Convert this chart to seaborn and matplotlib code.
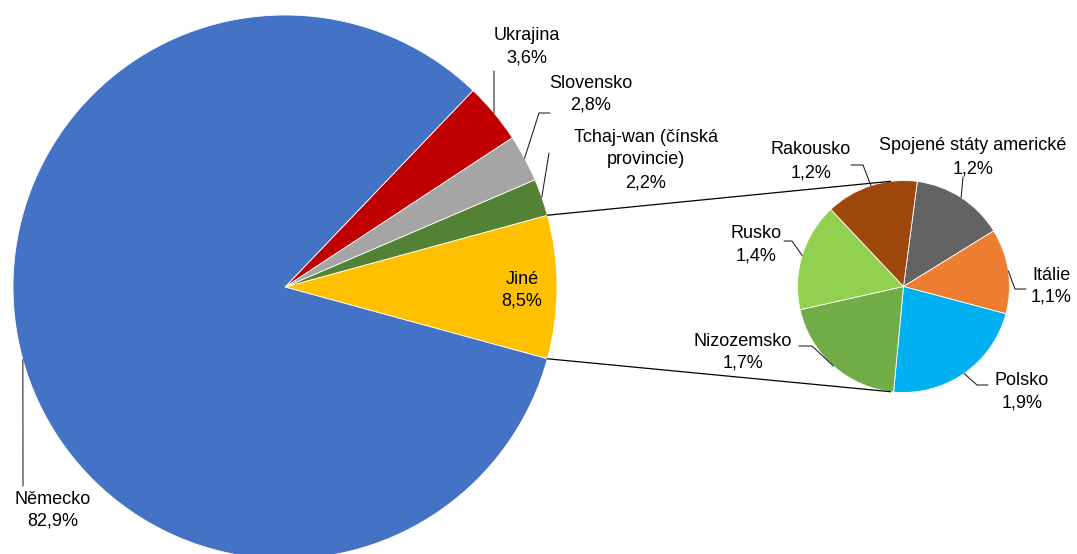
import numpy as np
import matplotlib.pyplot as plt
import seaborn as sns

# main pie, counter-clockwise starting with the exploded "Jiné" slice
main_labels = ["Jiné", "Tchaj-wan (čínská\nprovincie)", "Slovensko", "Ukrajina", "Německo"]
main_values = [8.5, 2.2, 2.8, 3.6, 82.9]
main_colors = ["#FFC000", "#548235", "#A5A5A5", "#C00000", "#4472C4"]

# breakdown of "Jiné", clockwise from the top
other_labels = ["Spojené státy americké", "Itálie", "Polsko", "Nizozemsko", "Rusko", "Rakousko"]
other_values = [1.2, 1.1, 1.9, 1.7, 1.4, 1.2]
other_colors = ["#636363", "#ED7D31", "#00B0F0", "#70AD47", "#92D050", "#9E480E"]

sns.set_theme(style="white")
plt.rcParams["font.family"] = ["Liberation Sans", "DejaVu Sans"]

W, H = 1077, 554
fig = plt.figure(figsize=(W / 100, H / 100), dpi=100)
ax = fig.add_axes([0, 0, 1, 1])

def px(x, y):
    # pixel position (origin top-left) -> data coords
    return x, H - y

main_c, main_r = px(285, 287), 272
small_c, small_r = px(903.5, 286.5), 106

start = -main_values[0] / sum(main_values) * 360 / 2
main_w, _ = ax.pie(main_values, colors=sns.color_palette(main_colors), startangle=start,
                   counterclock=True, center=main_c, radius=main_r, frame=True,
                   wedgeprops=dict(edgecolor="white", linewidth=0.6))
small_w, _ = ax.pie(other_values, colors=sns.color_palette(other_colors), startangle=82.5,
                    counterclock=False, center=small_c, radius=small_r, frame=True,
                    wedgeprops=dict(edgecolor="white", linewidth=0.6))

def rim(w, ang=None):
    if ang is None:
        ang = (w.theta1 + w.theta2) / 2
    a = np.deg2rad(ang)
    return w.center[0] + w.r * np.cos(a), w.center[1] + w.r * np.sin(a)

def pct(v):
    return f"{v:.1f}".replace(".", ",") + "%"

# connector lines between the "Jiné" slice and the second pie
jine = main_w[0]
for a_main, a_small in [(jine.theta2, 97), (jine.theta1, 263)]:
    p0 = rim(jine, a_main)
    p1 = (small_c[0] + small_r * np.cos(np.deg2rad(a_small)),
          small_c[1] + small_r * np.sin(np.deg2rad(a_small)))
    ax.plot([p0[0], p1[0]], [p0[1], p1[1]], color="black", lw=0.9, zorder=3)

# label layout: centre x, first baseline y, leader points near the label (pixels)
main_pos = {
    "Jiné": (522, 283.5, []),
    "Tchaj-wan (čínská\nprovincie)": (646, 142, [(549, 153)]),
    "Slovensko": (590.5, 87.5, [(550, 113), (539, 113)]),
    "Ukrajina": (526.5, 40, [(494, 71)]),
    "Německo": (52.5, 503.5, [(23, 486)]),
}
other_pos = {
    "Spojené státy americké": (973, 150.5, [(963, 177)]),
    "Itálie": (1051, 279.5, [(1026, 289), (1015, 289)]),
    "Polsko": (1022, 385, [(988, 385), (977, 385)]),
    "Nizozemsko": (742.5, 345.5, [(799, 346), (812, 346)]),
    "Rusko": (756.5, 238, [(784, 241), (792, 241)]),
    "Rakousko": (811, 154.5, [(851, 165), (863, 165)]),
}
step = 22.5

def put_labels(wedges, labels, values, pos):
    for w, lab, v in zip(wedges, labels, values):
        x, y, pts = pos[lab]
        lines = lab.split("\n") + [pct(v)]
        for i, line in enumerate(lines):
            ax.text(*px(x, y + i * step), line, ha="center", va="baseline",
                    fontsize=13, color="black", zorder=4)
        if pts:
            path = [px(*p) for p in pts] + [rim(w)]
            xs, ys = zip(*path)
            ax.plot(xs, ys, color="#1a1a1a", lw=0.75, zorder=3)

put_labels(main_w, main_labels, main_values, main_pos)
put_labels(small_w, other_labels, other_values, other_pos)

ax.set_xlim(0, W)
ax.set_ylim(0, H)
ax.set_aspect("equal")
ax.axis("off")
fig.savefig("out.png", dpi=100)
